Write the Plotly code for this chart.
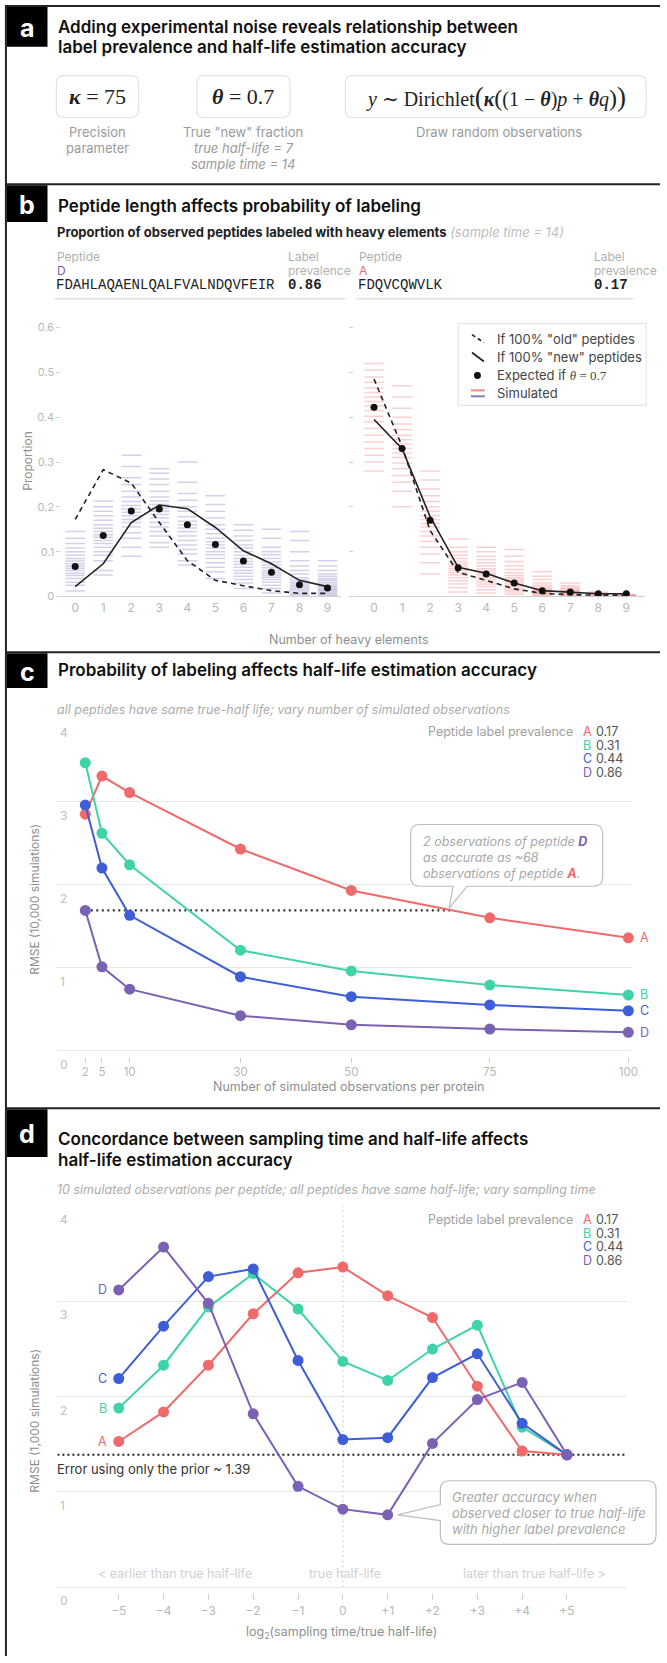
import plotly.graph_objects as go

W, H = 667, 1663

# ---------------- panel b: heavy-element distributions ----------------
heavy_elements = list(range(10))
heavy_labels = [str(k) for k in heavy_elements]
proportion_ticks = [0, 0.1, 0.2, 0.3, 0.4, 0.5, 0.6]
proportion_labels = ["0", "0.1", "0.2", "0.3", "0.4", "0.5", "0.6"]

# peptide D (long, label prevalence 0.86)
pep_d_old = [0.172, 0.283, 0.253, 0.165, 0.080, 0.036, 0.024, 0.013, 0.007, 0.007]
pep_d_new = [0.022, 0.073, 0.165, 0.204, 0.196, 0.154, 0.102, 0.073, 0.036, 0.022]
pep_d_expected = [0.067, 0.136, 0.191, 0.195, 0.160, 0.116, 0.079, 0.054, 0.026, 0.019]
pep_d_simulated = [
    [0.012, 0.025, 0.032, 0.040, 0.047, 0.052, 0.058, 0.063, 0.068, 0.073, 0.079, 0.085, 0.092, 0.100, 0.108, 0.118, 0.130, 0.145],
    [0.048, 0.058, 0.080, 0.092, 0.100, 0.110, 0.118, 0.125, 0.132, 0.138, 0.145, 0.152, 0.160, 0.170, 0.180, 0.190, 0.200, 0.213],
    [0.090, 0.110, 0.130, 0.142, 0.155, 0.165, 0.172, 0.180, 0.188, 0.195, 0.203, 0.212, 0.222, 0.235, 0.250, 0.265, 0.290, 0.315],
    [0.110, 0.120, 0.135, 0.145, 0.155, 0.165, 0.175, 0.183, 0.190, 0.197, 0.205, 0.213, 0.222, 0.235, 0.250, 0.262, 0.275, 0.285],
    [0.070, 0.080, 0.095, 0.105, 0.115, 0.125, 0.135, 0.145, 0.153, 0.160, 0.168, 0.178, 0.190, 0.200, 0.215, 0.230, 0.255, 0.300],
    [0.040, 0.055, 0.065, 0.075, 0.085, 0.093, 0.100, 0.108, 0.115, 0.122, 0.130, 0.140, 0.150, 0.160, 0.175, 0.190, 0.205, 0.225],
    [0.018, 0.030, 0.038, 0.045, 0.052, 0.058, 0.065, 0.072, 0.078, 0.085, 0.092, 0.100, 0.108, 0.115, 0.125, 0.135, 0.148, 0.160],
    [0.008, 0.018, 0.025, 0.032, 0.038, 0.043, 0.048, 0.053, 0.058, 0.064, 0.070, 0.077, 0.085, 0.093, 0.100, 0.110, 0.130, 0.150],
    [0.000, 0.004, 0.008, 0.012, 0.016, 0.020, 0.024, 0.028, 0.032, 0.037, 0.042, 0.050, 0.058, 0.068, 0.080, 0.100, 0.125, 0.145],
    [0.000, 0.003, 0.006, 0.009, 0.012, 0.015, 0.018, 0.021, 0.024, 0.028, 0.032, 0.036, 0.040, 0.045, 0.050, 0.058, 0.068, 0.080],
]

# peptide A (short, label prevalence 0.17)
pep_a_old = [0.485, 0.335, 0.147, 0.054, 0.036, 0.017, 0.007, 0.004, 0.003, 0.003]
pep_a_new = [0.395, 0.330, 0.178, 0.065, 0.052, 0.030, 0.013, 0.010, 0.006, 0.006]
pep_a_expected = [0.422, 0.330, 0.170, 0.064, 0.050, 0.030, 0.013, 0.010, 0.006, 0.006]
pep_a_simulated = [
    [0.280, 0.300, 0.315, 0.330, 0.345, 0.360, 0.375, 0.390, 0.402, 0.415, 0.425, 0.435, 0.445, 0.455, 0.465, 0.478, 0.490, 0.505, 0.520],
    [0.200, 0.235, 0.255, 0.270, 0.285, 0.298, 0.310, 0.320, 0.330, 0.340, 0.350, 0.360, 0.372, 0.385, 0.400, 0.420, 0.445, 0.470],
    [0.050, 0.075, 0.095, 0.110, 0.123, 0.135, 0.145, 0.155, 0.163, 0.172, 0.180, 0.190, 0.200, 0.212, 0.225, 0.240, 0.260, 0.280],
    [0.010, 0.020, 0.028, 0.035, 0.042, 0.048, 0.053, 0.058, 0.063, 0.068, 0.073, 0.078, 0.085, 0.092, 0.100, 0.110, 0.128],
    [0.008, 0.015, 0.022, 0.028, 0.033, 0.038, 0.043, 0.048, 0.052, 0.057, 0.062, 0.068, 0.075, 0.082, 0.090, 0.100, 0.110],
    [0.005, 0.010, 0.014, 0.018, 0.022, 0.026, 0.030, 0.034, 0.038, 0.042, 0.047, 0.053, 0.060, 0.068, 0.078, 0.090, 0.105],
    [0.000, 0.003, 0.005, 0.007, 0.009, 0.011, 0.013, 0.015, 0.018, 0.021, 0.025, 0.030, 0.038, 0.045, 0.055],
    [0.000, 0.002, 0.004, 0.006, 0.008, 0.010, 0.012, 0.014, 0.017, 0.020, 0.024, 0.030],
    [0.000, 0.001, 0.002, 0.004, 0.006, 0.008, 0.010],
    [0.000, 0.001, 0.002, 0.003, 0.005],
]

# ---------------- panel c: RMSE vs number of observations ----------------
n_observations = [2, 5, 10, 30, 50, 75, 100]
obs_rmse_A = [2.85, 3.31, 3.11, 2.43, 1.93, 1.60, 1.36]
obs_rmse_B = [3.47, 2.62, 2.24, 1.21, 0.96, 0.79, 0.67]
obs_rmse_C = [2.96, 2.20, 1.63, 0.89, 0.65, 0.55, 0.48]
obs_rmse_D = [1.69, 1.01, 0.74, 0.42, 0.31, 0.26, 0.22]
equivalent_obs_A = 68

# ---------------- panel d: RMSE vs sampling time ----------------
log2_ratio = [-5, -4, -3, -2, -1, 0, 1, 2, 3, 4, 5]
log2_labels = ["\u22125", "\u22124", "\u22123", "\u22122", "\u22121", "0", "+1", "+2", "+3", "+4", "+5"]
time_rmse_A = [1.53, 1.84, 2.33, 2.87, 3.30, 3.36, 3.06, 2.83, 2.11, 1.43, 1.39]
time_rmse_B = [1.88, 2.33, 2.94, 3.29, 2.92, 2.37, 2.17, 2.50, 2.75, 1.68, 1.39]
time_rmse_C = [2.19, 2.74, 3.26, 3.34, 2.38, 1.55, 1.57, 2.20, 2.45, 1.72, 1.39]
time_rmse_D = [3.12, 3.57, 2.98, 1.82, 1.06, 0.82, 0.76, 1.51, 1.97, 2.15, 1.39]
prior_rmse = 1.39

rmse_ticks = [0, 1, 2, 3, 4]
obs_ticks = [2, 5, 10, 30, 50, 75, 100]

peptides = ["A", "B", "C", "D"]
prevalence = ["0.17", "0.31", "0.44", "0.86"]
colors = {"A": "#F06A6C", "B": "#40D2A8", "C": "#3D5ED6", "D": "#7B61B3"}

# ---------------- geometry (pixels) ----------------
AX = {
    "bl": dict(x=(62, 345), xr=(-0.494, 9.494), y=(599, 320), yr=(0, 0.62)),
    "br": dict(x=(358, 652), xr=(-0.706, 9.671), y=(599, 320), yr=(0, 0.62)),
    "c": dict(x=(58, 637.8), xr=(-3.04, 100.5), y=(1061, 721.0), yr=(-0.072, 4.01)),
    "d": dict(x=(58, 634), xr=(-6.369, 6.347), y=(1600, 1210.2), yr=(-0.0627, 4.01)),
}


def fx(x):
    return x / W


def fy(y):
    return 1 - y / H


def to_px(ax, xv, yv):
    a = AX[ax]
    (x0, x1), (r0, r1) = a["x"], a["xr"]
    (y0, y1), (s0, s1) = a["y"], a["yr"]
    return (x0 + (xv - r0) / (r1 - r0) * (x1 - x0),
            y0 + (yv - s0) / (s1 - s0) * (y1 - y0))


def dom_x(ax):
    return [fx(AX[ax]["x"][0]), fx(AX[ax]["x"][1])]


def dom_y(ax):
    return [fy(AX[ax]["y"][0]), fy(AX[ax]["y"][1])]


fig = go.Figure()

# ---------------- panel b traces ----------------
def tick_points(groups):
    xs, ys = [], []
    for k, g in zip(heavy_elements, groups):
        xs += [k] * len(g)
        ys += g
    return xs, ys


for groups, rgba, xa, ya in [(pep_d_simulated, "rgba(118,96,184,0.30)", "x", "y"),
                             (pep_a_simulated, "rgba(238,98,104,0.30)", "x2", "y2")]:
    xs, ys = tick_points(groups)
    fig.add_trace(go.Scatter(x=xs, y=ys, mode="markers", xaxis=xa, yaxis=ya, hoverinfo="skip",
                             marker=dict(symbol="line-ew", size=14, line=dict(width=1.5, color=rgba))))

for old, new, exp, xa, ya in [(pep_d_old, pep_d_new, pep_d_expected, "x", "y"),
                              (pep_a_old, pep_a_new, pep_a_expected, "x2", "y2")]:
    fig.add_trace(go.Scatter(x=heavy_elements, y=old, mode="lines", xaxis=xa, yaxis=ya, hoverinfo="skip",
                             line=dict(color="#222", width=1.6, dash="5px,4px")))
    fig.add_trace(go.Scatter(x=heavy_elements, y=new, mode="lines", xaxis=xa, yaxis=ya, hoverinfo="skip",
                             line=dict(color="#222", width=1.6)))
    fig.add_trace(go.Scatter(x=heavy_elements, y=exp, mode="markers", xaxis=xa, yaxis=ya, hoverinfo="skip",
                             cliponaxis=False, marker=dict(color="#111", size=7)))

# ---------------- panel c traces ----------------
fig.add_trace(go.Scatter(x=[n_observations[0], equivalent_obs_A], y=[obs_rmse_D[0], obs_rmse_D[0]],
                         mode="lines", xaxis="x3", yaxis="y3", hoverinfo="skip",
                         line=dict(color="#333", width=2.2, dash="2px,3.5px")))
for p, vals in zip(peptides, [obs_rmse_A, obs_rmse_B, obs_rmse_C, obs_rmse_D]):
    fig.add_trace(go.Scatter(x=n_observations, y=vals, mode="lines+markers", xaxis="x3", yaxis="y3",
                             cliponaxis=False, hoverinfo="skip",
                             line=dict(color=colors[p], width=2),
                             marker=dict(color=colors[p], size=11)))

# ---------------- panel d traces ----------------
fig.add_trace(go.Scatter(x=[0, 0], y=[0, 4], mode="lines", xaxis="x4", yaxis="y4", hoverinfo="skip",
                         line=dict(color="#dcdcdc", width=1.5, dash="2px,3px")))
fig.add_trace(go.Scatter(x=[AX["d"]["xr"][0], AX["d"]["xr"][1]], y=[prior_rmse, prior_rmse],
                         mode="lines", xaxis="x4", yaxis="y4", hoverinfo="skip",
                         line=dict(color="#222", width=2, dash="2px,3px")))
for p, vals in zip(peptides, [time_rmse_A, time_rmse_B, time_rmse_C, time_rmse_D]):
    fig.add_trace(go.Scatter(x=log2_ratio, y=vals, mode="lines+markers", xaxis="x4", yaxis="y4",
                             cliponaxis=False, hoverinfo="skip",
                             line=dict(color=colors[p], width=2),
                             marker=dict(color=colors[p], size=11)))

# ---------------- axes ----------------
tickgray = "#b8b8b8"
b_x = dict(tickvals=heavy_elements, ticktext=heavy_labels, showline=True, linecolor="#cfcfcf",
           linewidth=1, ticks="", showgrid=False, zeroline=False,
           tickfont=dict(size=12, color=tickgray), fixedrange=True)
b_y = dict(tickvals=proportion_ticks, ticks="outside", ticklen=4, tickcolor="#cfcfcf",
           showgrid=False, zeroline=False, showline=False, fixedrange=True)
rm_y = dict(tickvals=rmse_ticks, showticklabels=False, ticks="", showgrid=True, gridcolor="#e6e6e6",
            gridwidth=1.4, zeroline=False, showline=False, fixedrange=True)
fig.update_layout(
    width=W, height=H, margin=dict(l=0, r=0, t=0, b=0),
    paper_bgcolor="white", plot_bgcolor="rgba(0,0,0,0)", showlegend=False,
    font=dict(family="Inter, Roboto, sans-serif", color="#333"),
    xaxis=dict(domain=dom_x("bl"), range=list(AX["bl"]["xr"]), anchor="y", **b_x),
    yaxis=dict(domain=dom_y("bl"), range=list(AX["bl"]["yr"]), anchor="x", ticktext=proportion_labels,
               tickfont=dict(size=11, color=tickgray), **b_y),
    xaxis2=dict(domain=dom_x("br"), range=list(AX["br"]["xr"]), anchor="y2", **b_x),
    yaxis2=dict(domain=dom_y("br"), range=list(AX["br"]["yr"]), anchor="x2", showticklabels=False, **b_y),
    xaxis3=dict(domain=dom_x("c"), range=list(AX["c"]["xr"]), anchor="y3", tickvals=obs_ticks,
                ticks="outside", ticklen=5, tickcolor="#cfcfcf", showline=False, showgrid=False,
                zeroline=False, tickfont=dict(size=11.5, color=tickgray), fixedrange=True),
    yaxis3=dict(domain=dom_y("c"), range=list(AX["c"]["yr"]), anchor="x3", **rm_y),
    xaxis4=dict(domain=dom_x("d"), range=list(AX["d"]["xr"]), anchor="y4", tickvals=log2_ratio,
                ticktext=log2_labels, ticks="outside", ticklen=6, tickcolor="#cfcfcf", showline=False,
                showgrid=False, zeroline=False, tickfont=dict(size=12, color=tickgray), fixedrange=True),
    yaxis4=dict(domain=dom_y("d"), range=list(AX["d"]["yr"]), anchor="x4", **rm_y),
)

# ---------------- shapes ----------------
shapes = []


def line_px(x0, y0, x1, y1, color="#222", width=2, dash=None):
    ln = dict(color=color, width=width)
    if dash:
        ln["dash"] = dash
    shapes.append(dict(type="line", xref="paper", yref="paper", x0=fx(x0), y0=fy(y0), x1=fx(x1), y1=fy(y1),
                       line=ln))


def rect_px(x0, y0, x1, y1, fill):
    shapes.append(dict(type="rect", xref="paper", yref="paper", x0=fx(x0), y0=fy(y0), x1=fx(x1), y1=fy(y1),
                       fillcolor=fill, line=dict(color=fill, width=0), layer="below"))


def P(x, y):
    return f"{fx(x):.5f},{fy(y):.5f}"


def round_box(x0, y0, x1, y1, r=7, notch=None, color="#d5d5d5", width=1.2):
    d = f"M{P(x0 + r, y0)} L{P(x1 - r, y0)} Q{P(x1, y0)} {P(x1, y0 + r)} L{P(x1, y1 - r)} Q{P(x1, y1)} {P(x1 - r, y1)}"
    if notch and notch[0] == "bottom":
        _, a, b, tx, ty = notch
        d += f" L{P(b, y1)} L{P(tx, ty)} L{P(a, y1)}"
    d += f" L{P(x0 + r, y1)} Q{P(x0, y1)} {P(x0, y1 - r)}"
    if notch and notch[0] == "left":
        _, a, b, tx, ty = notch
        d += f" L{P(x0, b)} L{P(tx, ty)} L{P(x0, a)}"
    d += f" L{P(x0, y0 + r)} Q{P(x0, y0)} {P(x0 + r, y0)} Z"
    shapes.append(dict(type="path", xref="paper", yref="paper", path=d, fillcolor="white",
                       line=dict(color=color, width=width), layer="above"))


# frame and panel separators
line_px(6, 6, W, 6)
line_px(6, 5, 6, H)
for ysep in [185, 655, 1113]:
    line_px(6, ysep, W, ysep)

# panel letter boxes
letter_boxes = [("a", 7, 47), ("b", 186, 223), ("c", 656, 691), ("d", 1114, 1162)]
for _, t, b in letter_boxes:
    rect_px(7, t, 48, b, "#000")

# panel a parameter boxes
round_box(57, 76, 140, 118, r=7, color="#e2e2e2")
round_box(199, 76, 293, 118, r=7, color="#e2e2e2")
round_box(349, 76, 653, 118, r=7, color="#e2e2e2")

# panel b header rules
line_px(55, 300, 349, 300, color="#dedede", width=1.5)
line_px(360, 300, 640, 300, color="#dedede", width=1.5)

# panel b legend
shapes.append(dict(type="rect", xref="paper", yref="paper", x0=fx(463), y0=fy(325), x1=fx(653), y1=fy(407),
                   fillcolor="rgba(255,255,255,0.9)", line=dict(color="#e0e0e0", width=1)))
line_px(477, 336, 489, 344, color="#222", width=1.6, dash="4px,3px")
line_px(477, 354, 489, 363, color="#222", width=1.8)
shapes.append(dict(type="circle", xref="paper", yref="paper", x0=fx(479), y0=fy(373.5), x1=fx(486),
                   y1=fy(380.5), fillcolor="#111", line=dict(color="#111", width=0)))
line_px(476, 392, 490, 392, color="rgba(238,98,104,0.75)", width=2)
line_px(476, 398, 490, 398, color="rgba(118,96,184,0.85)", width=2)

# panel c callout
tip_cx, tip_cy = to_px("c", equivalent_obs_A, obs_rmse_D[0])
round_box(415, 828, 609, 890, r=9, notch=("bottom", 458, 472, tip_cx - 2, tip_cy - 2), color="#bdbdbd")

# panel d callout
dx, dy = to_px("d", log2_ratio[6], time_rmse_D[6])
round_box(445, 1487, 663, 1551, r=9, notch=("left", 1511, 1527, dx + 10, dy), color="#bdbdbd")

fig.update_layout(shapes=shapes)

# ---------------- annotations ----------------
anns = []


def T(x, y, text, size=12, color="#333", xanchor="left", yanchor="middle", family=None, weight=None,
      angle=None, xref="paper", yref="paper", xshift=0, yshift=0):
    f = dict(size=size, color=color)
    if family:
        f["family"] = family
    if weight:
        f["weight"] = weight
    a = dict(x=fx(x) if xref == "paper" else x, y=fy(y) if yref == "paper" else y, xref=xref, yref=yref,
             text=text, showarrow=False, xanchor=xanchor, yanchor=yanchor, font=f, align="left",
             xshift=xshift, yshift=yshift)
    if angle is not None:
        a["textangle"] = angle
    anns.append(a)


# panel letters
for ch, t, b in letter_boxes:
    T(27.5, (t + b) / 2 + 1, ch, size=25, color="white", xanchor="center", weight=700)

TITLE = dict(size=17, color="#111", weight=600)

# panel a
T(57, 27, "Adding experimental noise reveals relationship between", **TITLE)
T(57, 47, "label prevalence and half-life estimation accuracy", **TITLE)
serif = "Liberation Serif, DejaVu Serif, serif"
T(98.5, 97, "<b><i>\u03ba</i></b> = 75", size=22, color="#222", xanchor="center", family=serif)
T(246, 97, "<b><i>\u03b8</i></b> = 0.7", size=22, color="#222", xanchor="center", family=serif)
T(501, 97, "<i>y</i> \u223c Dirichlet<span style='font-size:27px'>(</span><b><i>\u03ba</i></b>"
           "<span style='font-size:24px'>(</span>(1 \u2212 <b><i>\u03b8</i></b>)<i>p</i> + "
           "<b><i>\u03b8</i></b><i>q</i><span style='font-size:24px'>)</span>"
           "<span style='font-size:27px'>)</span>",
  size=20, color="#222", xanchor="center", family=serif)
cap = dict(size=13, color="#9a9a9a", xanchor="center")
T(98.5, 133, "Precision", **cap)
T(98.5, 149, "parameter", **cap)
T(246, 133, "True \"new\" fraction", **cap)
T(246, 149, "<i>true half-life = 7</i>", **cap)
T(246, 165, "<i>sample time = 14</i>", **cap)
T(504, 133, "Draw random observations", **cap)

# panel b
T(57, 207, "Peptide length affects probability of labeling", **TITLE)
T(56, 233, "<b>Proportion of observed peptides labeled with heavy elements</b> "
           "<span style='color:#bdbdbd'><i>(sample time = 14)</i></span>", size=13, color="#222")
hdr = dict(size=12, color="#b0b0b0")
mono = "Liberation Mono, DejaVu Sans Mono, monospace"
T(56, 258, "Peptide", **hdr)
T(56, 272, "D", size=12, color=colors["D"])
T(55, 286, "FDAHLAQAENLQALFVALNDQVFEIR", size=14, color="#222", family=mono)
T(289, 258, "Label", **hdr)
T(289, 272, "prevalence", **hdr)
T(289, 286, "<b>0.86</b>", size=14, color="#222", family=mono)
T(361, 258, "Peptide", **hdr)
T(361, 272, "A", size=12, color=colors["A"])
T(360, 286, "FDQVCQWVLK", size=14, color="#222", family=mono)
T(598, 258, "Label", **hdr)
T(598, 272, "prevalence", **hdr)
T(598, 286, "<b>0.17</b>", size=14, color="#222", family=mono)
T(27, 463, "Proportion", size=12, color="#8f8f8f", xanchor="center", angle=-90)
T(353, 642, "Number of heavy elements", size=12.5, color="#8f8f8f", xanchor="center")
leg = dict(size=13, color="#444")
T(500, 340, "If 100% \"old\" peptides", **leg)
T(500, 359, "If 100% \"new\" peptides", **leg)
T(500, 377, "Expected if <span style='font-family:Liberation Serif, serif'><i>\u03b8</i> = 0.7</span>", **leg)
T(500, 395, "Simulated", **leg)

# panel c
T(57, 673, "Probability of labeling affects half-life estimation accuracy", **TITLE)
sub = dict(size=12.5, color="#acacac")
T(56, 712, "<i>all peptides have same true-half life; vary number of simulated observations</i>", **sub)


def y_labels(yref):
    for v in rmse_ticks:
        anns.append(dict(x=fx(59), y=v, xref="paper", yref=yref, text=str(v), showarrow=False,
                         xanchor="left", yanchor="top", yshift=-4, font=dict(size=12, color="#c0c0c0")))


y_labels("y3")
T(35, 903, "RMSE (10,000 simulations)", size=12, color="#8f8f8f", xanchor="center", angle=-90)
T(353, 1091, "Number of simulated observations per protein", size=12.5, color="#8f8f8f", xanchor="center")


def legend_block(y_first, dy):
    T(581, y_first, "Peptide label prevalence", size=12.5, color="#a0a0a0", xanchor="right")
    for i, (p, v) in enumerate(zip(peptides, prevalence)):
        T(587, y_first + i * dy, p, size=12.5, color=colors[p])
        T(600, y_first + i * dy, v, size=12.5, color="#555")


legend_block(735, 13.5)
for p, vals in zip(peptides, [obs_rmse_A, obs_rmse_B, obs_rmse_C, obs_rmse_D]):
    T(n_observations[-1], vals[-1], p, size=12.5, color=colors[p], xref="x3", yref="y3", xshift=10)
T(425, 845, "<i>2 observations of peptide <b><span style='color:%s'>D</span></b></i>" % colors["D"],
  size=12.5, color="#a8a8a8")
T(425, 861, "<i>as accurate as ~68</i>", size=12.5, color="#a8a8a8")
T(425, 877, "<i>observations of peptide <b><span style='color:%s'>A</span></b>.</i>" % colors["A"],
  size=12.5, color="#a8a8a8")

# panel d
T(57, 1144, "Concordance between sampling time and half-life affects", **TITLE)
T(57, 1165, "half-life estimation accuracy", **TITLE)
T(56, 1195, "<i>10 simulated observations per peptide; all peptides have same half-life; vary sampling time</i>",
  **sub)
y_labels("y4")
T(35, 1427, "RMSE (1,000 simulations)", size=12, color="#8f8f8f", xanchor="center", angle=-90)
legend_block(1225, 13.5)
for p, vals in zip(peptides, [time_rmse_A, time_rmse_B, time_rmse_C, time_rmse_D]):
    T(log2_ratio[0], vals[0], p, size=12.5, color=colors[p], xref="x4", yref="y4", xanchor="right", xshift=-10)
anns.append(dict(x=fx(56), y=prior_rmse, xref="paper", yref="y4", text="Error using only the prior ~ 1.39",
                 showarrow=False, xanchor="left", yanchor="top", yshift=-4, font=dict(size=13, color="#333")))
T(455, 1503, "<i>Greater accuracy when</i>", size=13, color="#a8a8a8")
T(455, 1519, "<i>observed closer to true half-life</i>", size=13, color="#a8a8a8")
T(455, 1535, "<i>with higher label prevalence</i>", size=13, color="#a8a8a8")
T(177, 1580, "&lt; earlier than true half-life", size=12.5, color="#d0d0d0", xanchor="center")
T(349, 1580, "true half-life", size=12.5, color="#d0d0d0", xanchor="center")
T(540, 1580, "later than true half-life &gt;", size=12.5, color="#d0d0d0", xanchor="center")
T(345, 1639, "log<sub>2</sub>(sampling time/true half-life)", size=12.5, color="#8f8f8f", xanchor="center")

fig.update_layout(annotations=anns)
fig.write_html("out.html", include_plotlyjs=True, config={"displayModeBar": False})
